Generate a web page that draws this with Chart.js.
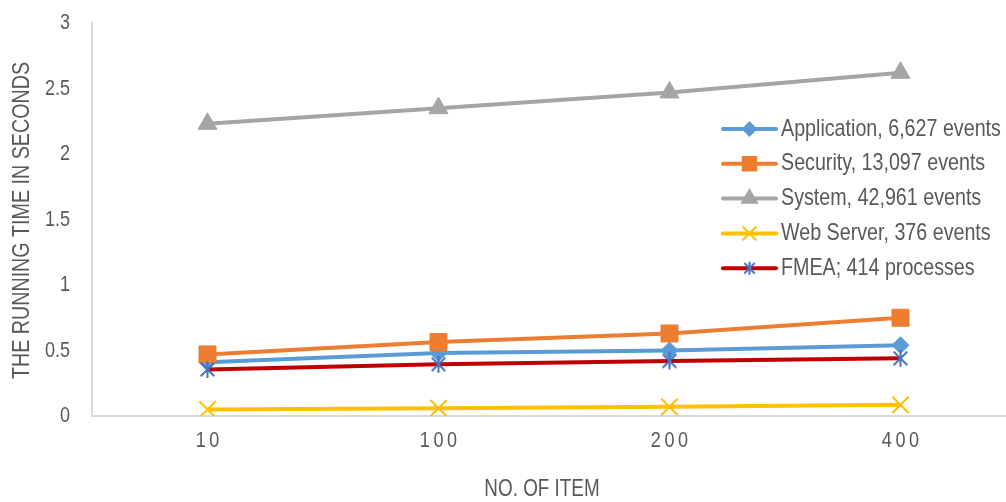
<!DOCTYPE html>
<html>
<head>
<meta charset="utf-8">
<script src="https://cdn.jsdelivr.net/npm/chart.js@4"></script>
<style>
  html, body { margin: 0; padding: 0; background: #fff; overflow: hidden; }
  #marco { width: 1030px; height: 502px; }
</style>
</head>
<body>
<div id="marco"><canvas id="grafico" width="1030" height="502"></canvas></div>
<script>
// Datos: tiempo de ejecución (segundos) por número de ítems
const items = ['10', '100', '200', '400'];
const application = [0.41, 0.48, 0.50, 0.54];
const security = [0.47, 0.565, 0.63, 0.75];
const system = [2.23, 2.35, 2.47, 2.62];
const webServer = [0.05, 0.06, 0.07, 0.085];
const fmea = [0.355, 0.395, 0.42, 0.44];
const ticksY = [0, 0.5, 1, 1.5, 2, 2.5, 3];

const nombres = [
  'Application, 6,627 events',
  'Security, 13,097 events',
  'System, 42,961 events',
  'Web Server, 376 events',
  'FMEA; 414 processes'
];

// no hay Arial Narrow: se estrecha Liberation Sans a mano
const fuente = "'Liberation Sans', Arial, sans-serif";
const estrecho = 0.82;
const gris = '#595959';

function texto(ctx, t, x, y, tam, alinear, angulo, espacio) {
  ctx.save();
  ctx.translate(x, y);
  if (angulo) ctx.rotate(angulo);
  ctx.scale(estrecho, 1);
  ctx.font = `${tam}px ${fuente}`;
  ctx.textAlign = alinear;
  ctx.textBaseline = 'middle';
  ctx.letterSpacing = espacio ? espacio + 'px' : '0px';
  ctx.fillText(t, 0, 0);
  ctx.restore();
}

// asterisco (vertical + X) para FMEA
function asterisco(tam, color) {
  const c = document.createElement('canvas');
  c.width = tam; c.height = tam;
  const g = c.getContext('2d');
  const m = tam / 2, r = tam / 2 - 1;
  g.strokeStyle = color;
  g.lineWidth = 2;
  g.beginPath();
  g.moveTo(m, m - r); g.lineTo(m, m + r);
  g.moveTo(m - r * 0.8, m - r * 0.8); g.lineTo(m + r * 0.8, m + r * 0.8);
  g.moveTo(m + r * 0.8, m - r * 0.8); g.lineTo(m - r * 0.8, m + r * 0.8);
  g.stroke();
  return c;
}

const series = [
  { data: application, color: '#5B9BD5', marca: '#5B9BD5', estilo: 'rectRot', radio: 8.5, radioLeyenda: 6.5 },
  { data: security, color: '#ED7D31', marca: '#ED7D31', estilo: 'rect', radio: 12, radioLeyenda: 9.5 },
  { data: system, color: '#A5A5A5', marca: '#A5A5A5', estilo: 'triangle', radio: 11, radioLeyenda: 8.5 },
  { data: webServer, color: '#FFC000', marca: '#FFC000', estilo: 'crossRot', radio: 11.5, radioLeyenda: 9 },
  { data: fmea, color: '#C00000', marca: '#4472C4', estilo: asterisco(19, '#4472C4'), radio: 9, radioLeyenda: 7,
    estiloLeyenda: asterisco(15, '#4472C4') }
];

const datasets = series.map((s, i) => ({
  label: nombres[i],
  data: s.data,
  borderColor: s.color,
  backgroundColor: s.marca,
  borderWidth: 4,
  pointStyle: s.estilo,
  pointRadius: s.radio,
  pointHoverRadius: s.radio,
  pointBackgroundColor: s.marca,
  pointBorderColor: s.marca,
  pointBorderWidth: s.estilo === 'crossRot' ? 2 : 1,
  tension: 0,
  order: series.length - i
}));

// etiquetas y títulos de ejes, leyenda
const rotulos = {
  id: 'rotulos',
  afterDraw(chart) {
    const ctx = chart.ctx;
    const ejeX = chart.scales.x;
    const ejeY = chart.scales.y;
    const area = chart.chartArea;
    ctx.save();
    ctx.fillStyle = gris;

    ticksY.forEach(v => texto(ctx, String(v), 70, ejeY.getPixelForValue(v), 22, 'right'));
    items.forEach((t, i) => texto(ctx, t, ejeX.getPixelForValue(i) + 1.7, 441, 22, 'center', 0, 4.3));
    texto(ctx, 'NO. OF ITEM', 542, 490, 23, 'center');
    texto(ctx, 'THE RUNNING TIME IN SECONDS', 22, (area.top + area.bottom) / 2 + 1, 24, 'center', -Math.PI / 2);

    series.forEach((s, i) => {
      const y = 129 + i * 34.8;
      ctx.strokeStyle = s.color;
      ctx.lineWidth = 4;
      ctx.lineCap = 'round';
      ctx.beginPath();
      ctx.moveTo(723, y);
      ctx.lineTo(776, y);
      ctx.stroke();
      ctx.fillStyle = s.marca;
      ctx.strokeStyle = s.marca;
      ctx.lineWidth = 2;
      Chart.helpers.drawPoint(ctx, {
        pointStyle: s.estiloLeyenda || s.estilo,
        radius: s.radioLeyenda,
        rotation: 0,
        borderWidth: 2
      }, 749.5, y);
      ctx.fillStyle = gris;
      texto(ctx, nombres[i], 781, y, 24, 'left');
    });
    ctx.restore();
  }
};

new Chart(document.getElementById('grafico').getContext('2d'), {
  type: 'line',
  data: { labels: items, datasets: datasets },
  plugins: [rotulos],
  options: {
    responsive: false,
    animation: false,
    layout: { padding: { top: 23, right: 14, left: 0, bottom: 0 } },
    plugins: { legend: { display: false }, tooltip: { enabled: false } },
    scales: {
      x: {
        offset: true,
        grid: { display: false, drawTicks: false },
        border: { display: true, color: '#D9D9D9', width: 2 },
        ticks: { display: false },
        afterFit(scale) { scale.height = 86; }
      },
      y: {
        min: 0,
        max: 3,
        grid: { display: false, drawTicks: false },
        border: { display: true, color: '#D9D9D9', width: 2 },
        ticks: { display: false, stepSize: 0.5 },
        afterFit(scale) { scale.width = 92; }
      }
    }
  }
});
</script>
</body>
</html>
